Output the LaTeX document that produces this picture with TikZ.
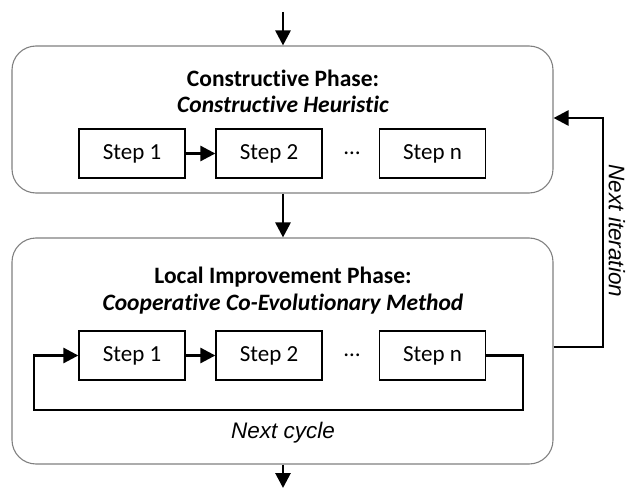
\documentclass[tikz,border=0pt]{standalone}
\usepackage{fontspec}
\setmainfont{Carlito}[Ligatures=NoCommon]
\newfontfamily\arialfont{Liberation Sans}
\usetikzlibrary{arrows.meta}
\definecolor{phaseline}{RGB}{128,128,128}
\tikzset{
  phasebox/.style={draw=phaseline, line width=1.1pt, rounded corners=24pt,
    minimum width=541pt, inner sep=0pt},
  stepbox/.style={draw=black, line width=1.3pt, minimum width=106pt,
    minimum height=49pt, inner sep=0pt, font=\fontsize{23}{27}\selectfont},
  flow/.style={line width=2.8pt, -{Triangle[length=15pt,width=15pt]}},
  titlefont/.style={font=\fontsize{23.5}{28}\selectfont\bfseries},
  subfont/.style={font=\fontsize{23.5}{28}\selectfont\bfseries\itshape},
  labelfont/.style={font=\fontsize{22.5}{27}\selectfont\arialfont\itshape},
}
\begin{document}
\begin{tikzpicture}[x=1pt,y=-1pt]
\useasboundingbox (0,0) rectangle (626,489);

% constructive phase
\node[phasebox, minimum height=147pt] (p1) at (282.5,119.5) {};
\node[titlefont, anchor=base] (t1) at (283,87) {Constructive Phase:};
\node[subfont, anchor=base] (s1) at (283,113) {Constructive Heuristic};
\node[stepbox] (a1) at (132,153.5) {Step 1};
\node[stepbox] (a2) at (269,153.5) {Step 2};
\node[stepbox] (a3) at (432.5,153.5) {Step n};
\node[font=\fontsize{23}{27}\selectfont] (ad) at (352,153.5) {…};

% local improvement phase
\node[phasebox, minimum height=226pt] (p2) at (282.5,351) {};
\node[titlefont, anchor=base] (t2) at (283,283) {Local Improvement Phase:};
\node[subfont, anchor=base] (s2) at (283,310) {Cooperative Co-Evolutionary Method};
\node[stepbox] (b1) at (132,355.5) {Step 1};
\node[stepbox] (b2) at (269,355.5) {Step 2};
\node[stepbox] (b3) at (432.5,355.5) {Step n};
\node[font=\fontsize{23}{27}\selectfont] (bd) at (352,355.5) {…};
\node[labelfont, anchor=base] (cyc) at (283,438) {Next cycle};
\node[labelfont, rotate=-90] (itl) at (617,231) {Next iteration};

% entry and exit points
\coordinate (start) at (283,12);
\coordinate (finish) at (283,488);
\coordinate (iterA) at (603,347);
\coordinate (iterB) at (603,118);
\coordinate (cycR) at (523,410);
\coordinate (cycL) at (34,410);

% flow between phases
\draw[flow] (start) -- (p1.north -| start);
\draw[flow] (p1.south -| start) -- (p2.north -| start);
\draw[flow] (p2.south -| finish) -- (finish);

% steps
\draw[flow] (a1) -- (a2);
\draw[flow] (b1) -- (b2);

% next cycle loop
\draw[flow] (b3.east) -- (b3.east -| cycR) -- (cycR) -- (cycL) -- (cycL |- b1.west) -- (b1.west);

% next iteration loop
\draw[flow] (p2.east |- iterA) -- (iterA) -- (iterB) -- (p1.east |- iterB);
\end{tikzpicture}
\end{document}
